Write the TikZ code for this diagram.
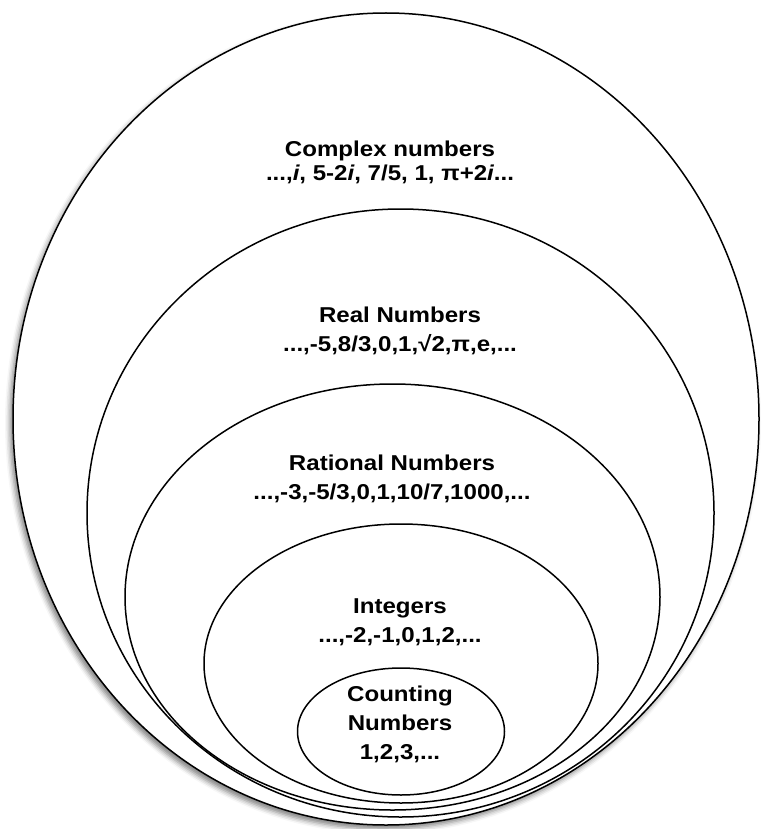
\documentclass[tikz,border=0pt]{standalone}
\usepackage{fontspec}
\setmainfont{Liberation Sans}
\usetikzlibrary{shadows.blur}
\tikzset{
  setline/.style={
    draw=black, line width=1.5pt
  },
  setlabel/.style={
    font=\fontsize{21.5}{29}\selectfont\bfseries,
    align=center, xscale=1.12, inner sep=0pt
  },
}
\begin{document}
\begin{tikzpicture}[x=1pt,y=-1pt]
  \useasboundingbox (0,0) rectangle (764,829);

  % nested sets, outermost first
  \draw[setline, fill=white,
    blur shadow={shadow xshift=-3pt, shadow yshift=-4pt,
      shadow blur radius=5pt, shadow opacity=50}]
    (386,419) ellipse (373 and 406);
  \draw[setline] (400.5,513) ellipse (313.5 and 304);
  \draw[setline] (392.5,597) ellipse (267.5 and 213);
  \draw[setline] (401,663.5) ellipse (197 and 139.5);
  \draw[setline] (401,731.5) ellipse (103.5 and 63.5);

  % labels
  \node[setlabel] (complex) at (390,162)
    {Complex numbers\\[-5pt]...,\textit{i}, 5-2\textit{i}, 7/5, 1, π+2\textit{i}...};
  \node[setlabel] (real) at (400,331)
    {Real Numbers\\...,-5,8/3,0,1,√2,π,e,...};
  \node[setlabel] (rational) at (392,479)
    {Rational Numbers\\...,-3,-5/3,0,1,10/7,1000,...};
  \node[setlabel] (integers) at (400,622)
    {Integers\\...,-2,-1,0,1,2,...};
  \node[setlabel] (counting) at (400,724)
    {Counting\\Numbers\\1,2,3,...};
\end{tikzpicture}
\end{document}
